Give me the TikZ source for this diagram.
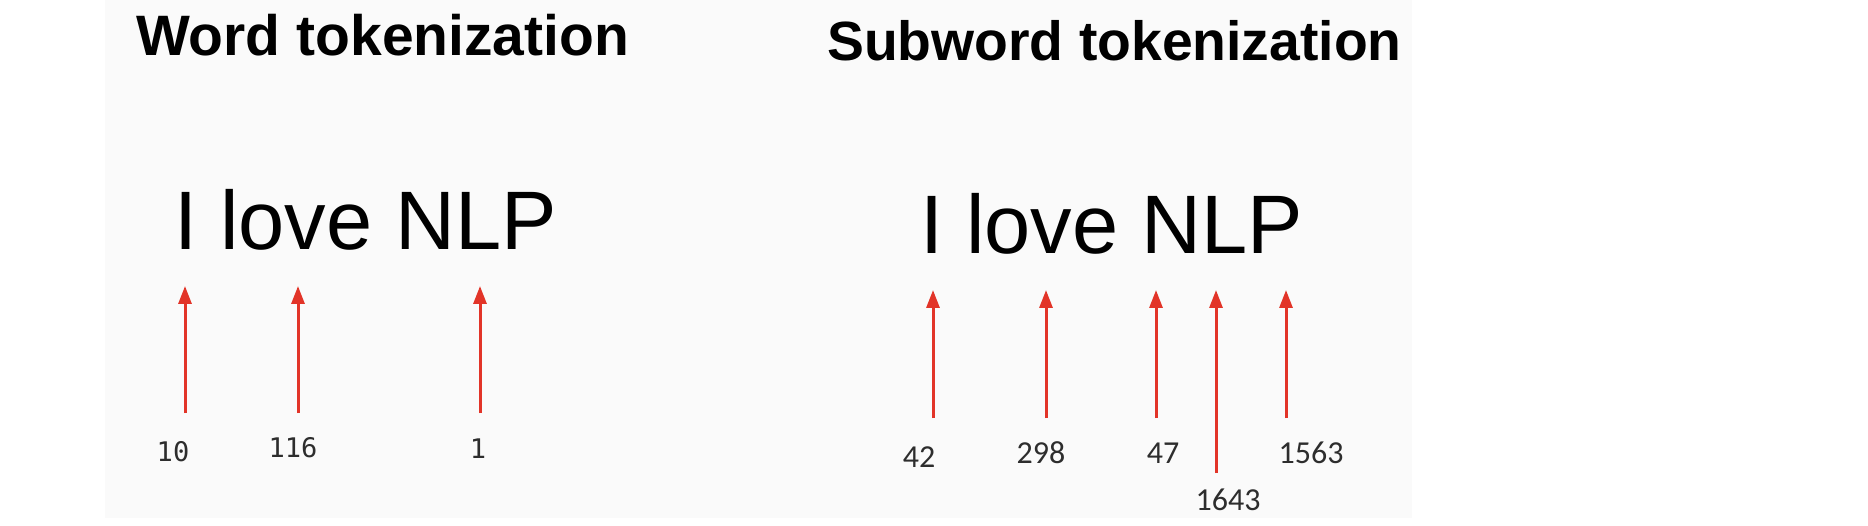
\documentclass[tikz,border=0pt]{standalone}
\usepackage{fontspec}
\setmainfont{Liberation Sans}
\newfontfamily\monofam{DejaVu Sans Mono}
\newfontfamily\carlfam{Carlito}
\usetikzlibrary{arrows.meta}
\definecolor{bgray}{RGB}{250,250,250}
\definecolor{arrred}{RGB}{226,52,40}
\definecolor{numgray}{RGB}{45,45,45}
\tikzset{
  titletext/.style={anchor=base west, inner sep=0pt, font=\fontsize{57}{66}\selectfont\bfseries},
  bigtext/.style={anchor=base west, inner sep=0pt, font=\fontsize{83}{100}\selectfont},
  monolabel/.style={inner sep=0pt, text=numgray, font=\monofam\fontsize{27}{32}\selectfont},
  carllabel/.style={inner sep=0pt, text=numgray, font=\carlfam\fontsize{32}{38}\selectfont},
  tokarrow/.style={draw=arrred, line width=3pt, -{Triangle[length=18pt,width=13pt]}}
}
\begin{document}
\begin{tikzpicture}[x=1pt,y=-1pt]
\useasboundingbox (0,0) rectangle (1868,526);
\fill[bgray] (105,0) rectangle (1412,518);
% titles
\node[titletext] (t1) at (136,56) {Word tokenization};
\node[titletext, font=\fontsize{55.3}{64}\selectfont\bfseries] (t2) at (827,61) {Subword tokenization};
% sentences
\node[bigtext] (s1) at (174,250) {I love NLP};
\node[bigtext] (s2) at (920,254) {I love NLP};
% left arrows
\coordinate (la1) at (185,413); \coordinate (lh1) at (185,286);
\coordinate (la2) at (298,413); \coordinate (lh2) at (298,286);
\coordinate (la3) at (480,413); \coordinate (lh3) at (480,286);
\draw[tokarrow] (la1) -- (lh1);
\draw[tokarrow] (la2) -- (lh2);
\draw[tokarrow] (la3) -- (lh3);
\node[monolabel] (n10) at (173,452) {10};
\node[monolabel] (n116) at (293,448) {116};
\node[monolabel] (n1) at (478,449) {1};
% right arrows
\coordinate (ra1) at (933,418); \coordinate (rh1) at (933,290);
\coordinate (ra2) at (1046,418); \coordinate (rh2) at (1046,290);
\coordinate (ra3) at (1156,418); \coordinate (rh3) at (1156,290);
\coordinate (ra4) at (1216,473); \coordinate (rh4) at (1216,290);
\coordinate (ra5) at (1286,418); \coordinate (rh5) at (1286,290);
\draw[tokarrow] (ra1) -- (rh1);
\draw[tokarrow] (ra2) -- (rh2);
\draw[tokarrow] (ra3) -- (rh3);
\draw[tokarrow] (ra4) -- (rh4);
\draw[tokarrow] (ra5) -- (rh5);
\node[carllabel] (n42) at (919,457) {42};
\node[carllabel] (n298) at (1041,453) {298};
\node[carllabel] (n47) at (1163,453) {47};
\node[carllabel] (n1563) at (1311,453) {1563};
\node[carllabel] (n1643) at (1228,500) {1643};
\end{tikzpicture}
\end{document}
